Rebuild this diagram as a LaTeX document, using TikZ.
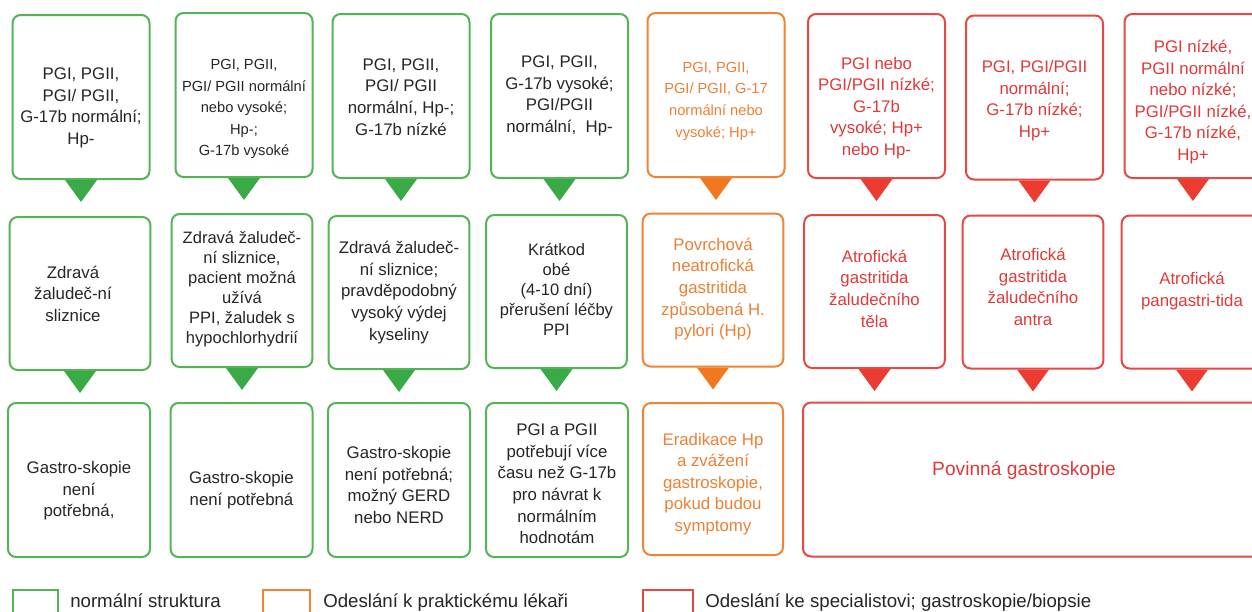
\documentclass[tikz,border=0pt]{standalone}
\usepackage{fontspec}
\setmainfont{Liberation Sans}
\usetikzlibrary{calc}
\definecolor{gline}{RGB}{84,180,84}
\definecolor{gtri}{RGB}{58,170,70}
\definecolor{oline}{RGB}{240,132,52}
\definecolor{otri}{RGB}{242,120,32}
\definecolor{otext}{RGB}{236,128,52}
\definecolor{rline}{RGB}{232,72,66}
\definecolor{rtri}{RGB}{236,60,50}
\definecolor{rtext}{RGB}{226,56,56}
\definecolor{dtext}{RGB}{38,38,38}
\tikzset{
  boxbase/.style={draw, line width=1.5pt, rounded corners=6pt, fill=white, inner sep=0pt},
  gbox/.style={boxbase, draw=gline},
  obox/.style={boxbase, draw=oline},
  rbox/.style={boxbase, draw=rline},
  toprow/.style={minimum width=102.75pt, minimum height=123pt},
  midrow/.style={minimum width=105.5pt, minimum height=114.75pt},
  botrow/.style={minimum width=106.5pt, minimum height=115.5pt},
  txt/.style={align=center, inner sep=0pt, font=\fontsize{12.6pt}{16.2pt}\selectfont},
  txtsm/.style={align=center, inner sep=0pt, font=\fontsize{11pt}{16.2pt}\selectfont},
  tight/.style={font=\fontsize{12.4pt}{15pt}\selectfont},
  gtxt/.style={txt, text=dtext},
  otxt/.style={txt, text=otext},
  rtxt/.style={txt, text=rtext},
  legbox/.style={draw, line width=1.2pt},
  legtxt/.style={anchor=base west, inner sep=0pt, font=\fontsize{14pt}{16pt}\selectfont, text=dtext}
}
\newcommand{\tri}[2]{\fill[#1] ([xshift=-12pt]#2.south) -- ([xshift=12pt]#2.south) -- ([yshift=-16.5pt]#2.south) -- cycle;}
\begin{document}
\begin{tikzpicture}[x=0.75pt,y=-0.75pt]
\clip (0,0) rectangle (1252,611);
\fill[white] (0,0) rectangle (1252,611);

% ---------- top row ----------
\node[gbox, toprow] (t1) at (81,97) {};
\node[gtxt] (t1x) at ($(t1)+(0,11)$) {PGI, PGII,\\PGI/ PGII,\\G-17b normální;\\Hp-};
\node[gbox, toprow] (t2) at (244,95) {};
\node[gtxt, txtsm, text=dtext] (t2x) at ($(t2)+(0,14)$) {PGI, PGII,\\PGI/ PGII normální\\nebo vysoké;\\Hp-;\\G-17b vysoké};
\node[gbox, toprow] (t3) at (401,96) {};
\node[gtxt] (t3x) at ($(t3)+(0,1)$) {PGI, PGII,\\PGI/ PGII\\normální, Hp-;\\G-17b nízké};
\node[gbox, toprow] (t4) at (559.5,96) {};
\node[gtxt] (t4x) at ($(t4)+(0,0)$) {PGI, PGII,\\G-17b vysoké;\\PGI/PGII\\normální,\ \ Hp-};
\node[obox, toprow] (t5) at (716,95) {};
\node[otxt, txtsm, text=otext] (t5x) at ($(t5)+(0,6)$) {PGI, PGII,\\PGI/ PGII, G-17\\normální nebo\\vysoké; Hp+};
\node[rbox, toprow] (t6) at (876.5,96) {};
\node[rtxt] (t6x) at ($(t6)+(0,12)$) {PGI nebo\\PGI/PGII nízké;\\G-17b\\vysoké; Hp+\\nebo Hp-};
\node[rbox, toprow] (t7) at (1034.5,97.5) {};
\node[rtxt] (t7x) at ($(t7)+(0,3)$) {PGI, PGI/PGII\\normální;\\G-17b nízké;\\Hp+};
\node[rbox, toprow] (t8) at (1193,96) {};
\node[rtxt] (t8x) at ($(t8)+(0,6)$) {PGI nízké,\\PGII normální\\nebo nízké;\\PGI/PGII nízké,\\G-17b nízké,\\Hp+};

\tri{gtri}{t1}\tri{gtri}{t2}\tri{gtri}{t3}\tri{gtri}{t4}
\tri{otri}{t5}\tri{rtri}{t6}\tri{rtri}{t7}\tri{rtri}{t8}

% ---------- middle row ----------
\node[gbox, midrow] (m1) at (80,293.5) {};
\node[gtxt] (m1x) at ($(m1)+(-7,0)$) {Zdravá\\žaludeč-ní\\sliznice};
\node[gbox, midrow] (m2) at (242,290.5) {};
\node[gtxt, tight] (m2x) at ($(m2)+(0,-1)$) {Zdravá žaludeč-\\ní sliznice,\\pacient možná\\užívá\\PPI, žaludek s\\hypochlorhydrií};
\node[gbox, midrow] (m3) at (399,292.5) {};
\node[gtxt] (m3x) at ($(m3)+(0,0)$) {Zdravá žaludeč-\\ní sliznice;\\pravděpodobný\\vysoký výdej\\kyseliny};
\node[gbox, midrow] (m4) at (556.5,291.5) {};
\node[gtxt, tight] (m4x) at ($(m4)+(0,-2)$) {Krátkod\\obé\\(4-10 dní)\\přerušení léčby\\PPI};
\node[obox, midrow] (m5) at (713,290) {};
\node[otxt] (m5x) at ($(m5)+(0,-1)$) {Povrchová\\neatrofická\\gastritida\\způsobená H.\\pylori (Hp)};
\node[rbox, midrow] (m6) at (874.5,291.5) {};
\node[rtxt] (m6x) at ($(m6)+(0,-3)$) {Atrofická\\gastritida\\žaludečního\\těla};
\node[rbox, midrow] (m7) at (1033,292) {};
\node[rtxt] (m7x) at ($(m7)+(0,-5)$) {Atrofická\\gastritida\\žaludečního\\antra};
\node[rbox, midrow] (m8) at (1192,292) {};
\node[rtxt] (m8x) at ($(m8)+(0,-1)$) {Atrofická\\pangastri-tida};

\tri{gtri}{m1}\tri{gtri}{m2}\tri{gtri}{m3}\tri{gtri}{m4}
\tri{otri}{m5}\tri{rtri}{m6}\tri{rtri}{m7}\tri{rtri}{m8}

% ---------- bottom row ----------
\node[gbox, botrow] (b1) at (79,480) {};
\node[gtxt] (b1x) at ($(b1)+(0,11)$) {Gastro-skopie\\není\\potřebná,};
\node[gbox, botrow] (b2) at (241.5,480) {};
\node[gtxt] (b2x) at ($(b2)+(0,10)$) {Gastro-skopie\\není potřebná};
\node[gbox, botrow] (b3) at (399,480) {};
\node[gtxt] (b3x) at ($(b3)+(0,5)$) {Gastro-skopie\\není potřebná;\\možný GERD\\nebo NERD};
\node[gbox, botrow] (b4) at (557,480) {};
\node[gtxt] (b4x) at ($(b4)+(0,4)$) {PGI a PGII\\potřebují více\\času než G-17b\\pro návrat k\\normálním\\hodnotám};
\node[obox, botrow, minimum width=105pt, minimum height=114pt] (b5) at (713,479) {};
\node[otxt] (b5x) at ($(b5)+(0,5)$) {Eradikace Hp\\a zvážení\\gastroskopie,\\pokud budou\\symptomy};
\node[rbox, minimum width=344.25pt, minimum height=115.5pt] (b6) at (1032.5,479.5) {};
\node[rtxt, font=\fontsize{14.4pt}{17pt}\selectfont] (b6x) at (1024,470) {Povinná gastroskopie};

% ---------- legend ----------
\node[legbox, draw=gline, minimum width=33.75pt, minimum height=30pt, inner sep=0pt] (lg) at (35.5,610) {};
\node[legtxt] (lgt) at (70,607) {normální struktura};
\node[legbox, draw=oline, minimum width=35.25pt, minimum height=30pt, inner sep=0pt] (lo) at (286.5,610) {};
\node[legtxt] (lot) at (323,607) {Odeslání k praktickému lékaři};
\node[legbox, draw=rline, minimum width=37.5pt, minimum height=30pt, inner sep=0pt] (lr) at (668,610) {};
\node[legtxt] (lrt) at (705,607) {Odeslání ke specialistovi; gastroskopie/biopsie};
\end{tikzpicture}
\end{document}
